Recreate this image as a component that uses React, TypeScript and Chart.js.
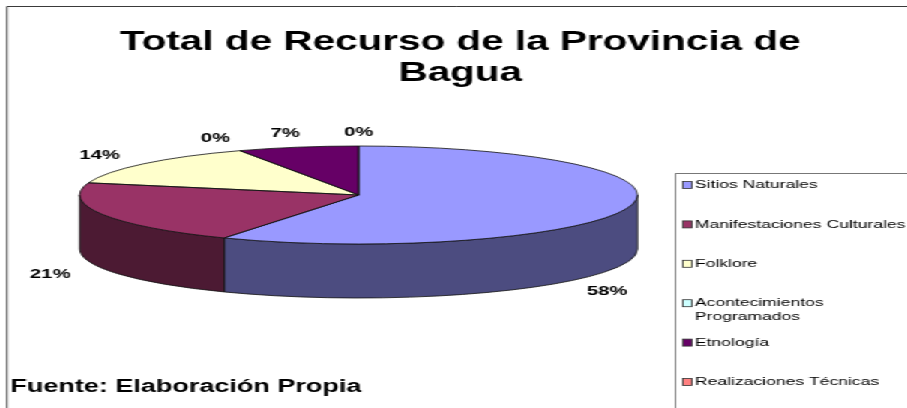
import React, { useEffect, useRef } from 'react';
import { Chart, registerables } from 'chart.js';

Chart.register(...registerables);

// ---- data ----
const categories = [
  'Sitios Naturales',
  'Manifestaciones Culturales',
  'Folklore',
  'Acontecimientos Programados',
  'Etnología',
  'Realizaciones Técnicas',
];
const values = [58, 21, 14, 0, 7, 0];
const topColors = ['#9999FF', '#993366', '#FFFFCC', '#CCFFFF', '#660066', '#FF8080'];
const sideColors = ['#4C4C80', '#4C1A33', '#808066', '#668080', '#330033', '#804040'];
const titleLines = ['Total de Recurso de la Provincia de', 'Bagua'];
const sourceNote = 'Fuente: Elaboración Propia';

// ---- layout (unstretched drawing space) ----
const W = 605;
const H = 408;
const STRETCH = 907 / W;
const RX = 186;
const RY = 49;
const DEPTH = 54;
const CX = 239.2;
const CY = 195;
const LEGEND_LEFT = 450;
const LEGEND_TOP = 173;
const FONT = '"Liberation Sans", Arial, sans-serif';

function frontRanges(s: number, e: number): Array<[number, number]> {
  const res: Array<[number, number]> = [];
  for (let k = -2; k <= 2; k++) {
    const lo = Math.max(s, k * 2 * Math.PI);
    const hi = Math.min(e, k * 2 * Math.PI + Math.PI);
    if (hi > lo + 1e-6) res.push([lo, hi]);
  }
  return res;
}

function wrapText(ctx: CanvasRenderingContext2D, text: string, maxW: number): string[] {
  const words = text.split(' ');
  const lines: string[] = [];
  let cur = '';
  for (const w of words) {
    const t = cur ? cur + ' ' + w : w;
    if (cur && ctx.measureText(t).width > maxW) {
      lines.push(cur);
      cur = w;
    } else cur = t;
  }
  if (cur) lines.push(cur);
  return lines;
}

const pie3d = {
  id: 'pie3d',
  beforeDraw(chart: any) {
    const ctx: CanvasRenderingContext2D = chart.ctx;
    ctx.save();
    ctx.fillStyle = '#ffffff';
    ctx.fillRect(0, 0, W, H);
    // frame
    ctx.strokeStyle = '#3a3a3a';
    ctx.lineWidth = 1;
    ctx.beginPath();
    ctx.moveTo(4.7, H);
    ctx.lineTo(4.7, 6.5);
    ctx.lineTo(W, 6.5);
    ctx.stroke();
    // title
    ctx.fillStyle = '#000';
    ctx.font = `bold 27px ${FONT}`;
    ctx.textAlign = 'center';
    ctx.textBaseline = 'alphabetic';
    titleLines.forEach((t, i) => ctx.fillText(t, 307, 50 + i * 30.5));
    // source note
    ctx.font = `bold 18px ${FONT}`;
    ctx.textAlign = 'left';
    ctx.fillText(sourceNote, 7, 392);
    // legend
    ctx.strokeStyle = '#777';
    ctx.beginPath();
    ctx.moveTo(LEGEND_LEFT + 0.5, H);
    ctx.lineTo(LEGEND_LEFT + 0.5, LEGEND_TOP + 0.5);
    ctx.lineTo(W, LEGEND_TOP + 0.5);
    ctx.stroke();
    const labels: string[] = chart.data.labels;
    const colors: string[] = chart.data.datasets[0].backgroundColor;
    ctx.font = `11.7px ${FONT}`;
    ctx.textBaseline = 'middle';
    labels.forEach((lab, i) => {
      const y = LEGEND_TOP + 12 + i * 39.4;
      ctx.fillStyle = colors[i];
      ctx.fillRect(455.5, y - 3.5, 6, 7);
      ctx.strokeStyle = '#333';
      ctx.lineWidth = 0.8;
      ctx.strokeRect(455.5, y - 3.5, 6, 7);
      ctx.fillStyle = '#000';
      const lines = wrapText(ctx, lab, 143);
      lines.forEach((ln, j) => ctx.fillText(ln, 463.5, y + j * 14));
    });
    ctx.restore();
  },
  beforeDatasetsDraw(chart: any) {
    const ctx: CanvasRenderingContext2D = chart.ctx;
    const arcs = chart.getDatasetMeta(0).data;
    if (!arcs.length) return;
    const { x, y, outerRadius: r } = arcs[0];
    const k = RY / r;
    // side walls
    arcs.forEach((arc: any, i: number) => {
      const ranges = frontRanges(arc.startAngle, arc.endAngle);
      ranges.forEach(([lo, hi]) => {
        ctx.save();
        ctx.translate(x, y);
        ctx.scale(1, k);
        ctx.beginPath();
        ctx.arc(0, 0, r, lo, hi);
        ctx.lineTo(r * Math.cos(hi), r * Math.sin(hi) + DEPTH / k);
        ctx.arc(0, DEPTH / k, r, hi, lo, true);
        ctx.closePath();
        ctx.restore();
        ctx.fillStyle = sideColors[i];
        ctx.fill();
        ctx.strokeStyle = '#111';
        ctx.lineWidth = 0.8;
        ctx.stroke();
      });
    });
    // squash the top face into an ellipse
    ctx.save();
    ctx.translate(x, y);
    ctx.scale(1, k);
    ctx.translate(-x, -y);
  },
  afterDatasetsDraw(chart: any) {
    const ctx: CanvasRenderingContext2D = chart.ctx;
    ctx.restore();
    const arcs = chart.getDatasetMeta(0).data;
    if (!arcs.length) return;
    const { x, y, outerRadius: r } = arcs[0];
    const k = RY / r;
    // outlines of the top faces
    arcs.forEach((arc: any) => {
      if (arc.endAngle - arc.startAngle < 1e-6) return;
      ctx.save();
      ctx.translate(x, y);
      ctx.scale(1, k);
      ctx.beginPath();
      ctx.moveTo(0, 0);
      ctx.lineTo(r * Math.cos(arc.startAngle), r * Math.sin(arc.startAngle));
      ctx.arc(0, 0, r, arc.startAngle, arc.endAngle);
      ctx.closePath();
      ctx.restore();
      ctx.strokeStyle = '#111';
      ctx.lineWidth = 0.8;
      ctx.stroke();
    });
    // percentage labels
    const data: number[] = chart.data.datasets[0].data;
    const total = data.reduce((a, b) => a + b, 0);
    const lrx = r + 38;
    const lry = RY + 14;
    const limit = LEGEND_LEFT - 45;
    ctx.save();
    ctx.font = `bold 13.5px ${FONT}`;
    ctx.fillStyle = '#000';
    ctx.textAlign = 'center';
    ctx.textBaseline = 'middle';
    arcs.forEach((arc: any, i: number) => {
      let mid = (arc.startAngle + arc.endAngle) / 2;
      let lx = x + lrx * Math.cos(mid);
      if (lx > limit) {
        const c = (limit - x) / lrx;
        const a = Math.acos(Math.max(-1, Math.min(1, c)));
        mid = Math.sin(mid) >= 0 ? a : -a;
        lx = x + lrx * Math.cos(mid);
      }
      const s = Math.sin(mid);
      const ly = y + lry * s + (s > 0 ? DEPTH : 0);
      const pct = Math.round((data[i] / total) * 100);
      ctx.fillText(`${pct}%`, lx, ly);
    });
    ctx.restore();
  },
};

export default function App() {
  const ref = useRef<HTMLCanvasElement | null>(null);
  useEffect(() => {
    if (!ref.current) return;
    const chart = new Chart(ref.current, {
      type: 'pie',
      data: {
        labels: categories,
        datasets: [
          {
            data: values,
            backgroundColor: topColors,
            borderWidth: 0,
            radius: RX,
            clip: false,
          } as any,
        ],
      },
      options: {
        responsive: false,
        animation: false,
        events: [],
        layout: { padding: { left: 0, top: 0, right: W - 2 * CX, bottom: H - 2 * CY } },
        plugins: {
          legend: { display: false },
          tooltip: { enabled: false },
          title: { display: false },
        },
      },
      plugins: [pie3d as any],
    });
    return () => chart.destroy();
  }, []);
  return (
    <div
      style={{
        position: 'absolute',
        left: 0,
        top: 0,
        width: W,
        height: H,
        transform: `scaleX(${STRETCH})`,
        transformOrigin: '0 0',
        background: '#fff',
      }}
    >
      <canvas ref={ref} width={W} height={H} />
    </div>
  );
}
